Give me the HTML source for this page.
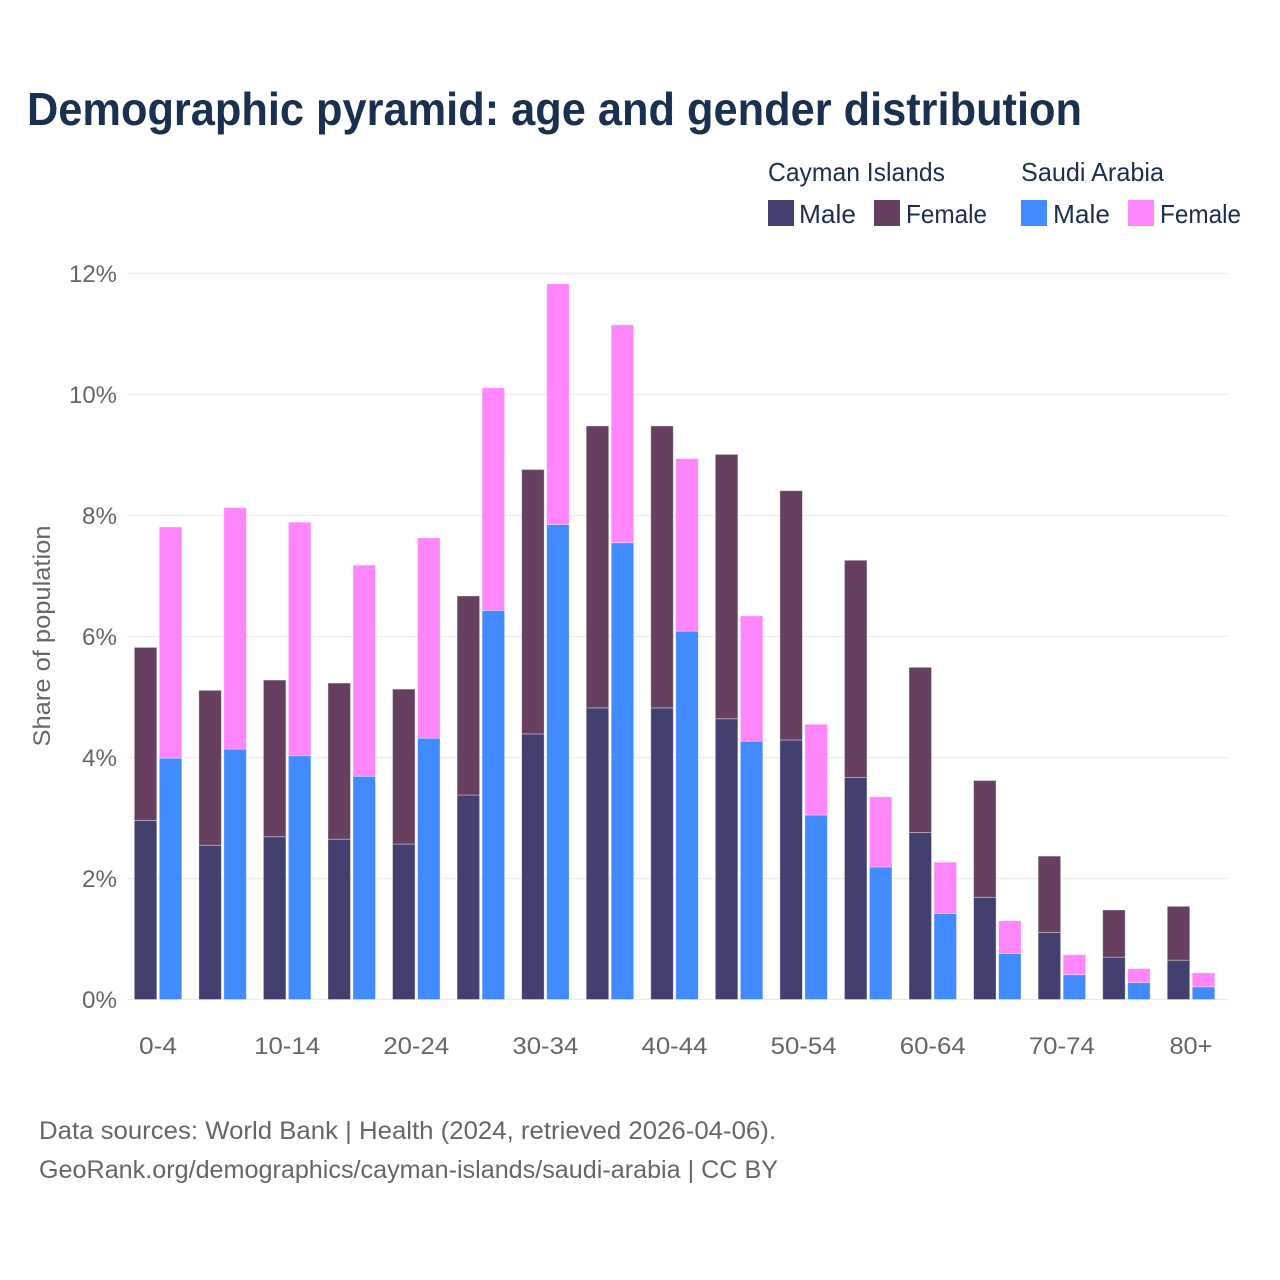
<!DOCTYPE html>
<html lang="en">
<head>
<meta charset="utf-8">
<title>Demographic pyramid</title>
<style>
html,body{margin:0;padding:0;background:#fff;}
svg{display:block;font-family:"Liberation Sans",sans-serif;}
</style>
</head>
<body>
<svg id="chart" width="1280" height="1280" viewBox="0 0 1280 1280" xmlns="http://www.w3.org/2000/svg">
  <rect width="1280" height="1280" fill="#fff"/>
  <text x="27" y="125" font-size="46" font-weight="700" fill="#1a3050" textLength="1055" lengthAdjust="spacingAndGlyphs">Demographic pyramid: age and gender distribution</text>

  <g font-size="26" fill="#1a3050">
    <text x="768" y="181" textLength="177" lengthAdjust="spacingAndGlyphs">Cayman Islands</text>
    <text x="1021" y="181" textLength="143" lengthAdjust="spacingAndGlyphs">Saudi Arabia</text>
    <rect x="768" y="200" width="26" height="26" fill="#434070"/>
    <text x="799" y="223" textLength="57" lengthAdjust="spacingAndGlyphs">Male</text>
    <rect x="874" y="200" width="26" height="26" fill="#674060"/>
    <text x="906" y="223" textLength="81" lengthAdjust="spacingAndGlyphs">Female</text>
    <rect x="1021" y="200" width="26" height="26" fill="#428bff"/>
    <text x="1053" y="223" textLength="57" lengthAdjust="spacingAndGlyphs">Male</text>
    <rect x="1128" y="200" width="26" height="26" fill="#ff85fa"/>
    <text x="1160" y="223" textLength="81" lengthAdjust="spacingAndGlyphs">Female</text>
  </g>

  <g id="grid"></g>
  <g id="yticks"></g>
  <g id="bars"></g>
  <g id="xticks"></g>

  <text transform="translate(50,636) rotate(-90)" text-anchor="middle" font-size="24" fill="#666" textLength="221" lengthAdjust="spacingAndGlyphs">Share of population</text>

  <g font-size="25" fill="#666">
    <text x="39" y="1139" textLength="737" lengthAdjust="spacingAndGlyphs">Data sources: World Bank | Health (2024, retrieved 2026-04-06).</text>
    <text x="39" y="1178" textLength="739" lengthAdjust="spacingAndGlyphs">GeoRank.org/demographics/cayman-islands/saudi-arabia | CC BY</text>
  </g>
</svg>
<script>
const ageGroups = ["0-4","5-9","10-14","15-19","20-24","25-29","30-34","35-39","40-44","45-49","50-54","55-59","60-64","65-69","70-74","75-79","80+"];
const caymanMale = [2.96,2.55,2.69,2.65,2.57,3.38,4.39,4.82,4.82,4.64,4.29,3.67,2.76,1.69,1.11,0.70,0.65];
const caymanFemale = [2.86,2.56,2.59,2.58,2.56,3.29,4.37,4.66,4.66,4.37,4.12,3.59,2.73,1.93,1.26,0.78,0.89];
const saudiMale = [3.99,4.14,4.03,3.69,4.32,6.43,7.85,7.55,6.09,4.27,3.05,2.19,1.42,0.76,0.41,0.28,0.21];
const saudiFemale = [3.82,3.99,3.86,3.49,3.31,3.68,3.98,3.60,2.85,2.07,1.50,1.16,0.85,0.54,0.33,0.23,0.23];
const yTickValues = [0,2,4,6,8,10,12];
const xTickLabels = ["0-4","","10-14","","20-24","","30-34","","40-44","","50-54","","60-64","","70-74","","80+"];

const NS = "http://www.w3.org/2000/svg";
const yScale = function (v) { return 999.5 - v * 60.5; };
const xScale = function (i) { return 158.3 + i * 64.56; };
const BAR_W = 22.5;

function svgEl(tag, attrs, parent) {
  const el = document.createElementNS(NS, tag);
  Object.keys(attrs).forEach(function (k) { el.setAttribute(k, attrs[k]); });
  parent.appendChild(el);
  return el;
}

const gridG = document.getElementById("grid");
const yG = document.getElementById("yticks");
yTickValues.forEach(function (v) {
  const line = svgEl("line", {x1: 127, x2: 1228.5, y1: yScale(v), y2: yScale(v), stroke: "#ebebeb", "stroke-width": 1.3}, gridG);
  
  
  const t = svgEl("text", {x: 117, y: yScale(v) + 8.5, "text-anchor": "end", "font-size": 24, fill: "#666"}, yG);
  
  
  t.setAttribute('textLength', String(v).length > 1 ? 48 : 35);
  t.setAttribute('lengthAdjust', 'spacingAndGlyphs');
  t.textContent = v + "%";
});

const barsG = document.getElementById("bars");
function addBar(x, bottom, value, fill) {
  const yTop = yScale(bottom + value);
  const yBase = yScale(bottom);
  const r = svgEl("rect", {x: x, y: yTop, width: BAR_W, height: yBase - yTop, fill: fill, stroke: "#ffffff", "stroke-opacity": 0.45, "stroke-width": 0.8}, barsG);
  
  
}
ageGroups.forEach(function (g, i) {
  const cx = xScale(i);
  addBar(cx - 24, 0, caymanMale[i], "#434070");
  addBar(cx - 24, caymanMale[i], caymanFemale[i], "#674060");
  addBar(cx + 1, 0, saudiMale[i], "#428bff");
  addBar(cx + 1, saudiMale[i], saudiFemale[i], "#ff85fa");
});

const xG = document.getElementById("xticks");
xTickLabels.forEach(function (label, i) {
  if (!label) return;
  const t = svgEl("text", {x: xScale(i) - 0.3, y: 1054, "text-anchor": "middle", "font-size": 24, fill: "#666"}, xG);
  
  
  t.setAttribute('textLength', label.length >= 5 ? 66 : label.length === 3 && label !== "0-4" ? 43 : 38);
  t.setAttribute('lengthAdjust', 'spacingAndGlyphs');
  t.textContent = label;
});
</script>
</body>
</html>
